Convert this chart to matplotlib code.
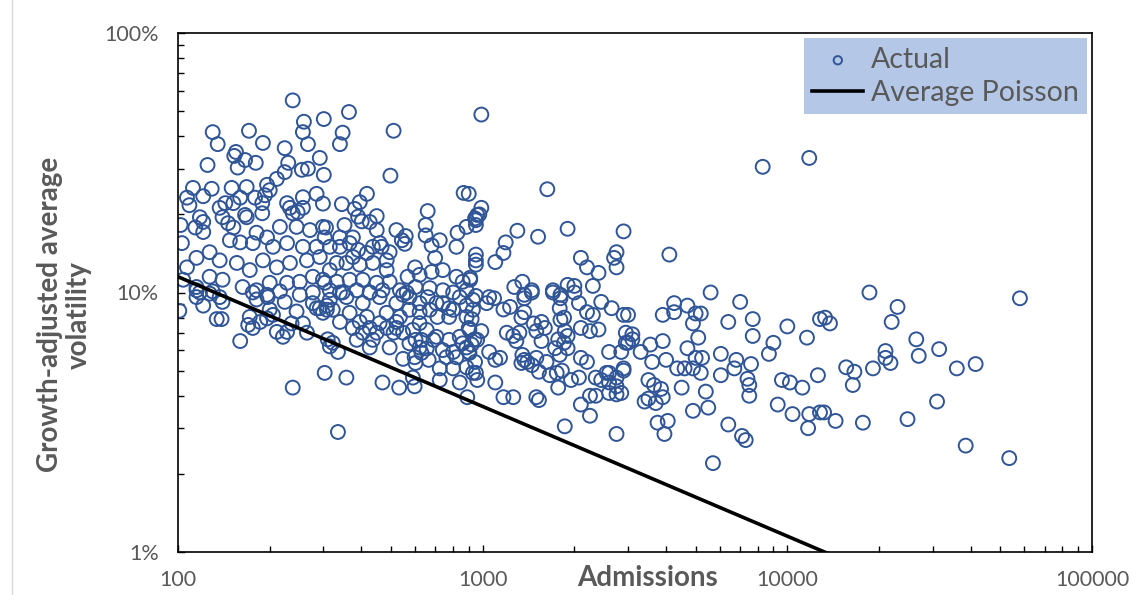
import numpy as np
import matplotlib
matplotlib.use('Agg')
import matplotlib.pyplot as plt
from matplotlib.ticker import FixedLocator, FuncFormatter, LogLocator, NullFormatter
from matplotlib.lines import Line2D

plt.rcParams['font.family'] = ['Lato', 'DejaVu Sans']

# admissions (x) and growth-adjusted average volatility in % (y)
admissions = [
    8300, 11800, 2900, 4100, 5600, 7000, 3000, 3900, 4250, 4250,
    4700, 5000, 5200, 4900, 6400, 7700, 7700, 10000, 11600, 12800,
    9000, 8700, 5100, 3100, 3000, 3300, 3550, 3900, 3600, 4000,
    4700, 5000, 5250, 4350, 4600, 4900, 5200, 6050, 6800, 6700,
    7600, 6050, 7400, 7500, 7500, 9600, 10200, 11200, 2900, 3500,
    3650, 3850, 3400, 3500, 3700, 3900, 4500, 5400, 5500, 4900,
    3750, 4050, 3950, 6400, 7100, 7300, 5700, 9300, 10400, 11800,
    11700, 12800, 12600, 18600, 23000, 22000, 58000, 13300, 13800, 26500,
    31500, 21000, 21000, 21800, 27000, 36000, 41500, 15600, 16600, 19100,
    16400, 31000, 24800, 13200, 14400, 17700, 38500, 53500,
    # middle
    990, 1630, 1900, 1520, 1300, 1190, 1170, 1100, 950, 950,
    950, 990, 960, 950, 950, 900, 910, 2100, 2200, 2400,
    2750, 2700, 2750, 2300, 1270, 1350, 1450, 1370, 1700, 1900,
    2000, 1800, 950, 1050, 1030, 1090, 1230, 1170, 1370, 1450,
    1370, 1340, 1700, 1800, 1790, 1850, 1800, 2000, 2070, 2200,
    2300, 2450, 2650, 2900, 920, 900, 990, 940, 920, 900,
    1050, 1100, 1140, 950, 960, 1100, 1170, 1260, 1200, 1260,
    1320, 1290, 1350, 1370, 1340, 1400, 1450, 1470, 1560, 1600,
    1500, 1560, 1500, 1620, 1530, 1660, 1750, 1820, 1770, 1500,
    1530, 1770, 1850, 1900, 1730, 1790, 1860, 1900, 2100, 2200,
    2100, 2250, 2400, 1950, 2070, 2350, 2450, 2600, 2550, 2750,
    2850, 2100, 2250, 1860, 2750, 2600, 2850, 2950, 3100, 2950,
    2900, 2750, 2600, 2350, 2250, 2600, 2750,
    # 300 - 1000 upper
    364, 301, 347, 340, 510, 292, 301, 498, 866, 417,
    395, 380, 390, 401, 345, 299, 449, 426, 449, 660,
    650, 650, 680, 723, 820, 827, 885, 944, 975, 521,
    559, 555, 543, 495, 484, 466, 698, 740, 680, 600,
    621, 567, 820, 860, 910, 352, 306, 303, 340, 375,
    315, 340, 366, 390, 375, 417, 436, 459, 332, 357,
    395, 436, 484, 315, 299, 332, 366, 404, 449, 495,
    535, 563, 602, 670, 740, 800, 885, 315, 347, 386,
    426, 469,
    # 100 - 300 upper
    238, 259, 257, 130, 135, 171, 190, 224, 267, 155,
    153, 166, 157, 180, 125, 230, 224, 255, 267, 211,
    196, 200, 193, 129, 112, 121, 107, 109, 150, 168,
    160, 143, 152, 137, 179, 189, 189, 257, 285, 228,
    233, 238, 247, 257, 102, 103, 118, 121, 114, 121,
    140, 146, 152, 148, 166, 168, 181, 196, 216, 245,
    271, 299, 160, 176, 205, 228, 257, 285, 107, 115,
    127, 137, 156, 172, 190, 211, 233, 265, 292, 104,
    115, 127, 140, 163, 181, 200, 228, 251, 277, 303,
    118, 130, 176, 196, 216, 277,
    # 100 - 300 lower
    101, 115, 121, 134, 139, 115, 127, 137, 140, 160,
    172, 170, 176, 186, 200, 196, 205, 211, 221, 228,
    236, 245, 257, 265, 181, 197, 224, 251, 285, 299,
    310, 303, 238, 277, 292, 308,
    # 300 - 1000 lower
    335, 357, 469, 532, 598, 590, 723, 841, 890, 322,
    335, 315, 340, 375, 404, 436, 386, 426, 495, 548,
    602, 665, 723, 630, 602, 590, 655, 621, 690, 740,
    800, 860, 905, 944, 885, 929, 841, 905, 959, 315,
    357, 404, 459, 521, 575, 660, 740, 841, 929, 322,
    366, 417, 484, 535, 621, 710, 776, 885, 459, 510,
    521, 575, 548, 484, 630, 621, 655, 598, 705, 776,
    820, 800, 760, 885, 426, 449, 395, 521, 575, 670,
    776, 885, 308, 340, 426, 548, 621, 705, 800, 929,
]

volatility = [
    30.5, 33, 17.2, 14, 10, 9.2, 8.2, 8.2, 9.1, 8.4,
    8.9, 8.3, 8.3, 7.6, 7.7, 7.9, 6.8, 7.4, 6.7, 7.9,
    6.4, 5.8, 6.7, 6.9, 6.4, 5.9, 6.3, 6.5, 5.4, 5.5,
    6.1, 5.6, 5.6, 5.1, 5.1, 5.1, 4.9, 5.8, 5.5, 5.1,
    5.3, 4.8, 4.65, 4.4, 4.0, 4.6, 4.5, 4.3, 5.0, 4.6,
    4.4, 4.25, 3.8, 3.9, 3.75, 3.95, 4.3, 4.15, 3.6, 3.5,
    3.15, 3.2, 2.85, 3.1, 2.8, 2.7, 2.2, 3.7, 3.4, 3.4,
    3.0, 3.45, 4.8, 10, 8.8, 7.7, 9.5, 8.0, 7.6, 6.6,
    6.05, 5.95, 5.6, 5.35, 5.7, 5.1, 5.3, 5.15, 4.95, 5.1,
    4.4, 3.8, 3.25, 3.45, 3.2, 3.15, 2.57, 2.3,
    # middle
    48.5, 25, 17.6, 16.4, 17.3, 15.6, 14.2, 13.1, 14, 13.3,
    12.8, 21.2, 19.9, 19, 18.2, 24, 11.2, 13.6, 12.5, 11.9,
    14.3, 13.6, 12.5, 10.6, 10.5, 11, 10.2, 9.8, 10.2, 10.7,
    10.6, 9.8, 9.7, 9.6, 9.1, 9.5, 8.8, 8.6, 9.5, 10.0,
    8.4, 8.0, 10.0, 9.5, 8.7, 8.0, 7.85, 10.0, 9.1, 8.4,
    8.2, 9.2, 8.7, 8.2, 7.9, 7.3, 7.1, 6.6, 6.3, 5.9,
    5.9, 5.5, 5.6, 4.9, 4.6, 4.5, 3.95, 3.95, 7.0, 6.8,
    7.0, 6.5, 5.75, 5.5, 5.35, 5.4, 5.25, 7.6, 7.7, 7.3,
    7.1, 6.5, 5.6, 5.4, 4.95, 4.8, 4.9, 5.0, 4.3, 3.95,
    3.85, 6.6, 6.4, 6.1, 6.1, 5.75, 7.1, 6.8, 5.6, 5.4,
    7.3, 7.1, 7.2, 4.6, 4.7, 4.7, 4.6, 4.5, 4.9, 4.35,
    4.1, 3.7, 3.35, 3.05, 2.85, 5.9, 5.9, 6.4, 6.6, 7.0,
    5.1, 4.7, 4.9, 4.0, 4.0, 4.1, 4.05,
    # 300 - 1000 upper
    49.6, 46.6, 41.3, 37.3, 42, 33, 28.4, 28.2, 24.2, 24,
    22.3, 21, 19.6, 18.8, 21.9, 22, 19.7, 18.7, 17.4, 20.6,
    18.2, 16.6, 15.2, 15.9, 15, 17, 17.9, 19.3, 20, 17.4,
    16.5, 15.4, 15.9, 14.3, 13.3, 15, 13.6, 12.2, 12, 12.5,
    11.7, 11.5, 11.5, 11, 11.4, 18.2, 17.8, 16.3, 16.3, 16.3,
    15, 15, 15.5, 14.6, 13.7, 14.2, 15, 15.5, 13, 13,
    12.8, 13, 12.2, 12.2, 11.2, 11, 11.2, 11.2, 10.9, 11,
    10.2, 10, 10.5, 10.4, 10.2, 10, 10.2, 10.2, 10, 10.2,
    10, 10.2,
    # 100 - 300 upper
    55, 45.5, 41.5, 41.5, 37.3, 42, 37.7, 36, 37.3, 34.8,
    33.6, 32.4, 30.3, 31.6, 31, 31.6, 29.1, 29.7, 30, 27.4,
    26, 24.8, 23.7, 25.1, 25.3, 23.5, 23.2, 21.7, 25.3, 25.5,
    23.2, 22.1, 22.1, 21.2, 23.2, 22.1, 20.2, 23.3, 24, 22.1,
    21.2, 20.2, 20.4, 21.2, 18.2, 15.5, 19.5, 18.7, 17.8, 17.1,
    19.5, 18.5, 17.8, 15.9, 19.9, 19.5, 17, 16.3, 17.9, 17.9,
    17.4, 17.9, 15.6, 15.5, 15, 15.5, 15, 15, 12.5, 13.6,
    14.3, 13.3, 13, 12.2, 13.3, 12.5, 13, 13.3, 13.7, 11.2,
    10.5, 11.5, 11.2, 10.5, 10.2, 10.9, 10.9, 11, 11.5, 10.9,
    10, 10.1, 10, 9.8, 10.1, 10,
    # 100 - 300 lower
    8.5, 9.6, 8.9, 7.9, 7.9, 10.2, 9.9, 9.6, 9.2, 6.5,
    8.05, 7.5, 7.3, 7.7, 8.6, 7.95, 8.2, 7.05, 6.75, 7.05,
    7.6, 8.45, 7.6, 7.0, 9.4, 9.6, 9.2, 9.8, 8.7, 8.35,
    6.6, 4.9, 4.3, 9.1, 8.7, 8.9,
    # 300 - 1000 lower
    2.9, 4.7, 4.5, 4.3, 4.35, 4.7, 4.6, 4.5, 3.95, 6.4,
    5.9, 6.2, 7.7, 7.3, 7.0, 6.57, 6.57, 7.3, 6.14, 5.55,
    5.35, 5.5, 5.1, 5.85, 6.57, 7.18, 7.18, 7.62, 6.57, 6.0,
    5.9, 6.37, 5.85, 5.4, 5.15, 4.9, 6.75, 7.18, 6.57, 9.37,
    9.6, 9.1, 9.6, 9.1, 9.6, 9.6, 9.1, 9.6, 9.37, 8.58,
    8.35, 8.05, 8.35, 8.05, 8.4, 8.05, 8.05, 8.05, 7.62, 7.0,
    7.3, 6.37, 7.0, 7.3, 6.57, 6.14, 6.08, 5.63, 6.75, 6.57,
    5.63, 5.1, 5.63, 6.14, 6.14, 7.0, 7.7, 7.7, 8.58, 8.58,
    8.7, 8.9, 8.58, 10, 10, 9.8, 9.1, 9.1, 8.58, 8.58,
]

# average Poisson line (two ends)
poisson_x = [100, 100000]
poisson_y = [11.5, 0.364]

x_ticks = [100, 1000, 10000, 100000]
y_ticks = [1, 10, 100]

blue = '#2f5597'
grey = '#595959'

fig = plt.figure(figsize=(11.43, 5.95), dpi=100)
ax = fig.add_axes([178 / 1143, 1 - 552 / 595, (1092 - 178) / 1143, (552 - 33) / 595])

ax.scatter(admissions, volatility, s=100, facecolors='none', edgecolors=blue,
           linewidths=1.4, label='Actual', zorder=2)
ax.plot(poisson_x, poisson_y, color='black', lw=2.6, label='Average Poisson', zorder=3)

ax.set_xscale('log')
ax.set_yscale('log')
ax.set_xlim(100, 100000)
ax.set_ylim(1, 100)

ax.xaxis.set_major_locator(FixedLocator(x_ticks))
ax.yaxis.set_major_locator(FixedLocator(y_ticks))
ax.xaxis.set_minor_locator(LogLocator(base=10, subs=np.arange(2, 10)))
ax.yaxis.set_minor_locator(LogLocator(base=10, subs=np.arange(2, 10)))
ax.xaxis.set_minor_formatter(NullFormatter())
ax.yaxis.set_minor_formatter(NullFormatter())
ax.xaxis.set_major_formatter(FuncFormatter(lambda v, p: f'{v:.0f}'))
ax.yaxis.set_major_formatter(FuncFormatter(lambda v, p: f'{v:.0f}%'))

ax.tick_params(which='both', direction='in', colors='black', labelcolor=grey,
               labelsize=15.5, width=1.0)
ax.tick_params(which='major', length=5)
ax.tick_params(which='minor', length=4)
ax.tick_params(axis='x', pad=13)
ax.tick_params(axis='y', pad=14)

for sp in ax.spines.values():
    sp.set_linewidth(1.2)
    sp.set_color('black')

ax.set_xlabel('Admissions', fontsize=20, fontweight='bold', color=grey)
ax.xaxis.set_label_coords(0.514, -0.026)
ax.set_ylabel('Growth-adjusted average\nvolatility', fontsize=20, fontweight='bold',
              color=grey, linespacing=1.15)
ax.yaxis.set_label_coords(-0.094, 0.457)

leg = ax.legend(loc='upper right', bbox_to_anchor=(0.9945, 0.99), borderaxespad=0,
                fontsize=20.5, frameon=True, fancybox=False, markerscale=0.6,
                handlelength=1.8, handletextpad=0.25, borderpad=0.3, labelspacing=0.25)
leg.get_frame().set_facecolor('#b4c7e7')
leg.get_frame().set_edgecolor('none')
leg.get_frame().set_alpha(1)
for t in leg.get_texts():
    t.set_color(grey)

fig.add_artist(Line2D([12 / 1143, 12 / 1143], [0, 1], color='#d9d9d9', lw=1))

fig.savefig('out.png', dpi=100)
